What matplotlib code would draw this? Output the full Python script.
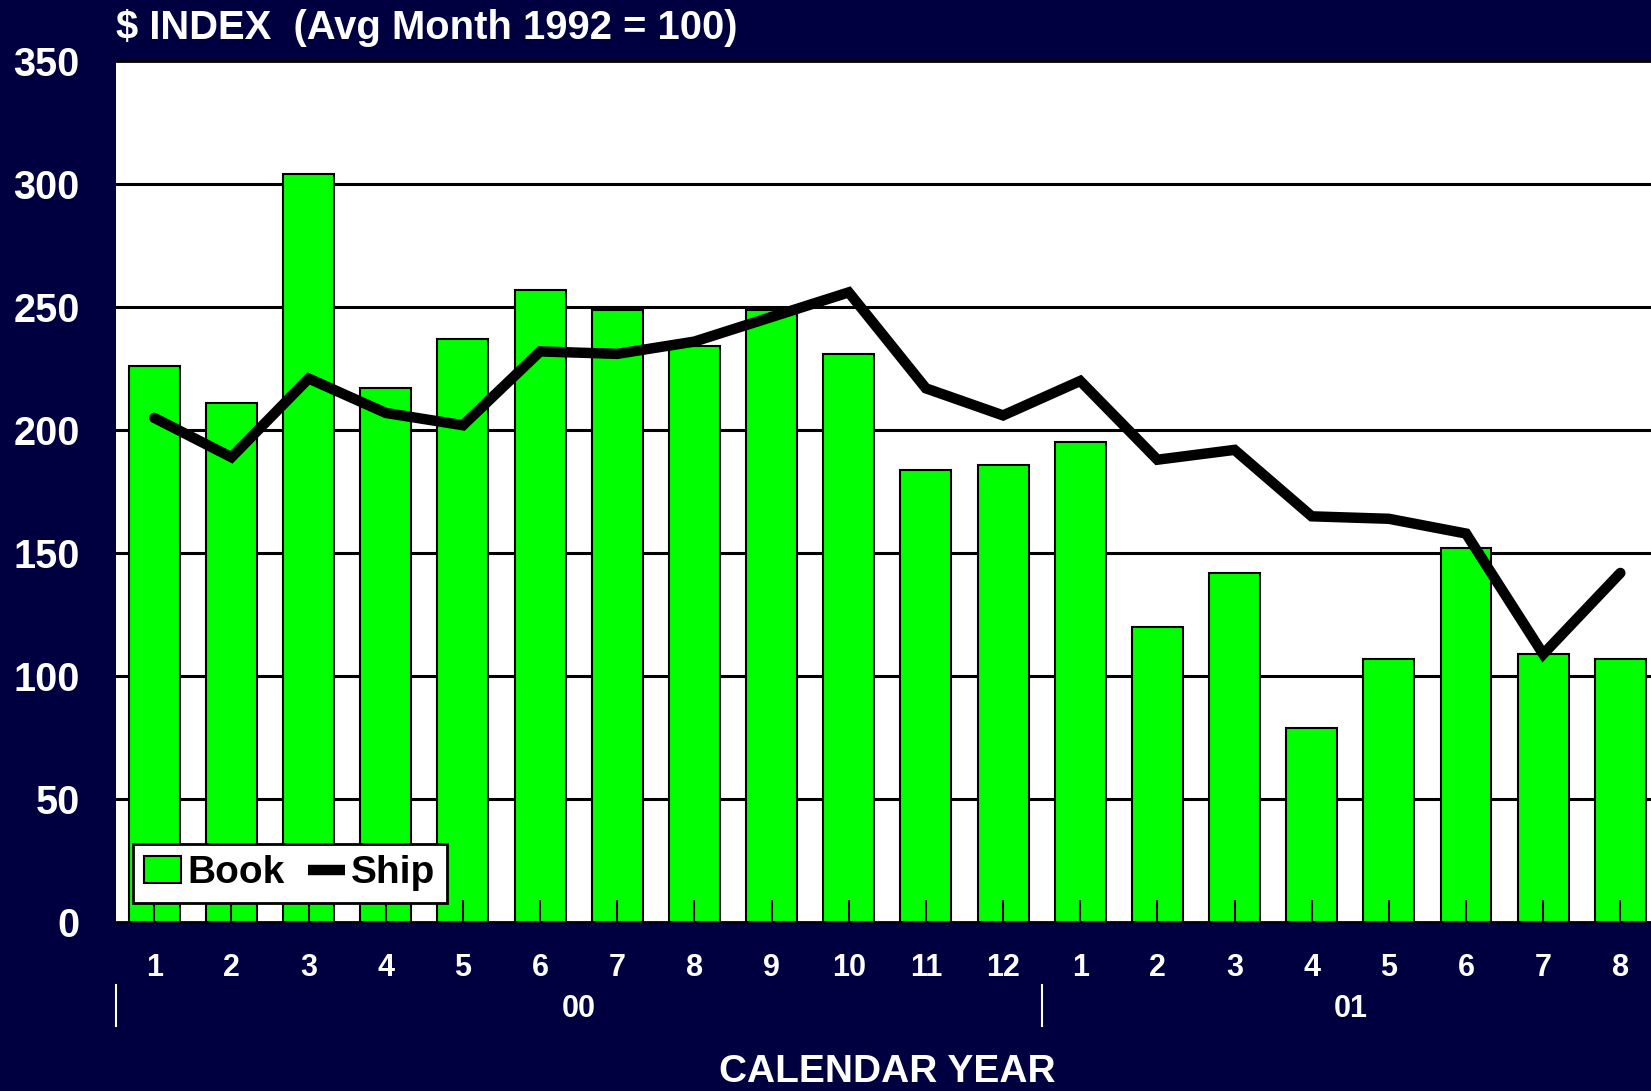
import numpy as np
import matplotlib
matplotlib.use('Agg')
import matplotlib.pyplot as plt
import matplotlib.transforms as mtransforms
from matplotlib.lines import Line2D

plt.rcParams['font.family'] = ['Liberation Sans', 'DejaVu Sans']
plt.rcParams['font.weight'] = 'bold'

# monthly index values (Avg Month 1992 = 100)
months = ['1', '2', '3', '4', '5', '6', '7', '8', '9', '10', '11', '12',
          '1', '2', '3', '4', '5', '6', '7', '8']
years = ['00', '01']
year_lengths = [12, 8]
book = [226, 211, 304, 217, 237, 257, 249, 234, 249, 231, 184, 186,
        195, 120, 142, 79, 107, 152, 109, 107]
ship = [205, 189, 221, 207, 202, 232, 231, 236, 246, 256, 217, 206,
        220, 188, 192, 165, 164, 158, 109, 142]
y_ticks = [0, 50, 100, 150, 200, 250, 300, 350]

NAVY = '#000040'
GREEN = '#00ff00'

fig = plt.figure(figsize=(16.51, 10.91), dpi=100, facecolor=NAVY)
ax = fig.add_axes([0.0701, 0.1545, 0.9347, 0.7896])
ax.set_facecolor('white')

x = np.arange(len(months))
for yv in y_ticks[1:-1]:
    ax.axhline(yv, color='black', linewidth=2.2, zorder=0.5)

bars = ax.bar(x, book, width=0.66, color=GREEN, edgecolor='black',
              linewidth=1.5, zorder=1)
ax.plot(x, ship, color='black', linewidth=7.5, solid_capstyle='round',
        solid_joinstyle='miter', zorder=2)

ax.set_xlim(-0.5, len(months) - 0.5)
ax.set_ylim(0, 350)
ax.set_yticks(y_ticks)
ax.tick_params(axis='y', length=0, pad=26, labelsize=28.5, labelcolor='white')
ax.set_xticks(x)
ax.set_xticklabels(months)
ax.tick_params(axis='x', direction='in', length=16, width=1.5, color='black',
               pad=22, labelsize=22, labelcolor='white')

for side in ['left', 'right']:
    ax.spines[side].set_visible(False)
for side in ['top', 'bottom']:
    ax.spines[side].set_color('black')
    ax.spines[side].set_linewidth(2.0)

# year groups under the month labels
trans = mtransforms.blended_transform_factory(ax.transData, fig.transFigure)
start = 0
for yr, n in zip(years, year_lengths):
    ax.text(start + (n - 1) / 2, 0.0678, yr, transform=trans, ha='center',
            va='baseline', color='white', fontsize=22, fontweight='bold')
    ax.plot([start - 0.5, start - 0.5], [0.0596, 0.0972], transform=trans,
            color='white', linewidth=1.5, clip_on=False)
    start += n

fig.text(0.0701, 0.974, '$ INDEX  (Avg Month 1992 = 100)', color='white',
         fontsize=28.8, fontweight='bold', ha='left', va='center')
ax.text(0.5, 0.008, 'CALENDAR YEAR',
        transform=mtransforms.blended_transform_factory(ax.transAxes, fig.transFigure),
        ha='center', va='baseline', color='white', fontsize=28, fontweight='bold')

ship_handle = Line2D([], [], color='black', linewidth=7.5, solid_capstyle='butt')
leg = ax.legend([bars, ship_handle], ['Book', 'Ship'], loc='lower left',
                bbox_to_anchor=(0.011, 0.0225), ncol=2,
                fontsize=28, frameon=True, fancybox=False, framealpha=1,
                edgecolor='black', borderpad=0.3, borderaxespad=0,
                handlelength=0.95, handletextpad=0.15, columnspacing=0.6)
leg.get_frame().set_linewidth(2.0)
leg.set_zorder(5)

fig.savefig('out.png', dpi=100, facecolor=NAVY)
